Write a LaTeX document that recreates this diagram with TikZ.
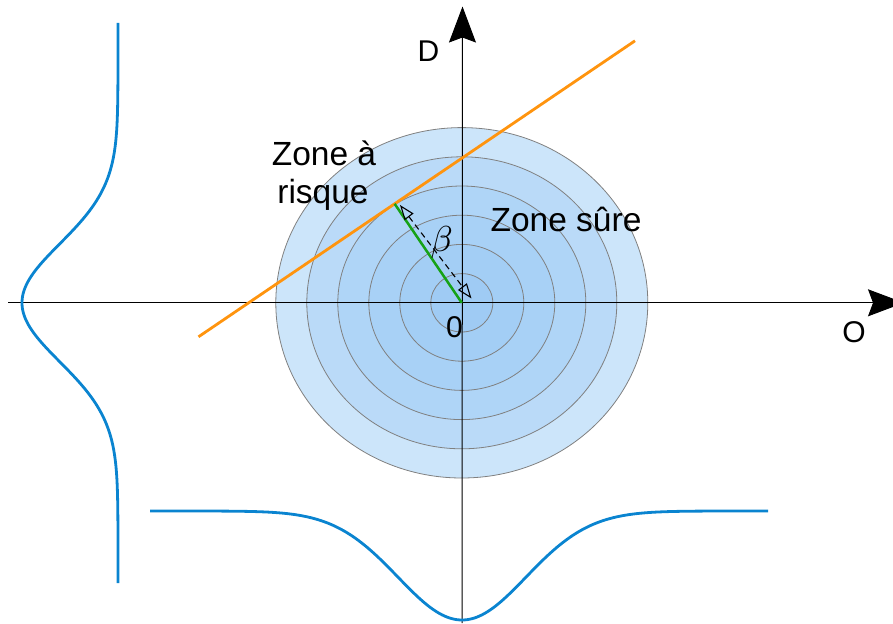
\documentclass[tikz,border=0pt]{standalone}
\usepackage{fontspec}
\setmainfont{Liberation Sans}
\usetikzlibrary{arrows.meta,calc}
\definecolor{bandA}{HTML}{CCE5FA}
\definecolor{bandB}{HTML}{BADAF8}
\definecolor{bandC}{HTML}{AFD5F7}
\definecolor{bandD}{HTML}{A8D1F6}
\definecolor{bandE}{HTML}{A3CEF5}
\definecolor{bandF}{HTML}{9FCBF4}
\definecolor{curveblue}{HTML}{0A84D0}
\definecolor{limitorange}{HTML}{FF940E}
\definecolor{betagreen}{HTML}{16A216}
\begin{document}
\begin{tikzpicture}[x=1pt,y=-1pt,
  ring/.style={draw=black!50,line width=0.8pt},
  axis/.style={draw=black,line width=1pt,-{Stealth[length=36pt,width=27pt,inset=5pt]}},
  gauss/.style={draw=curveblue,line width=2.8pt},
  bigtxt/.style={inner sep=0pt,font=\fontsize{33.5}{37}\selectfont},
  axtxt/.style={inner sep=0pt,font=\fontsize{30}{36}\selectfont},
  beta/.style={draw=black,line width=1.1pt,dash pattern=on 6pt off 4pt,{Triangle[open,length=15pt,width=11pt]}-{Triangle[open,length=15pt,width=11pt]}}]
\useasboundingbox (0,0) rectangle (893,623);
\coordinate (O) at (461.8,302.8);
% concentric ellipses
\foreach \k/\c in {6/bandA,5/bandB,4/bandC,3/bandD,2/bandE,1/bandF}{
  \filldraw[ring,fill=\c] (O) ellipse [x radius={31*\k}, y radius={29.2*\k}];
}
% axes
\coordinate (xs) at (8,302.8);
\coordinate (xe) at (904,302.8);
\coordinate (ys) at (462,623);
\coordinate (ye) at (462.5,6.5);
\draw[axis] (xs) -- (xe);
\draw[axis] (ys) -- (ye);
% limit state line
\coordinate (L1) at (198.5,336.8);
\coordinate (L2) at (635,40.8);
\draw[limitorange,line width=2.8pt] (L1) -- (L2);
% reliability index
\coordinate (F) at ($(L1)!(O)!(L2)$);
\draw[betagreen,line width=2.5pt] (O) -- (F);
\coordinate (b1) at (400,205);
\coordinate (b2) at (471.5,298.5);
\draw[beta] (b1) -- (b2);
\node[inner sep=0pt,scale=3.6] (betalbl) at (441.7,242) {$\beta$};
% gaussian marginals
\draw[gauss] plot[domain=23:583,samples=200,variable=\t] ({118-96*exp(-((\t-302.8)/59)*((\t-302.8)/59)/2)},{\t});
\draw[gauss] plot[domain=150:768,samples=200,variable=\t] ({\t},{511+109*exp(-((\t-462)/64)*((\t-462)/64)/2)});
% labels
\node[bigtxt,anchor=base] (risk1) at (324,165.7) {Zone à};
\node[bigtxt,anchor=base] (risk2) at (323,203) {risque};
\node[bigtxt,anchor=base] (safe) at (566,231.7) {Zone sûre};
\node[axtxt,anchor=base] (lblD) at (428.5,62) {D};
\node[axtxt,anchor=base] (lblO) at (854,342.5) {O};
\node[axtxt,anchor=base] (lbl0) at (454.5,337.3) {0};
\end{tikzpicture}
\end{document}
